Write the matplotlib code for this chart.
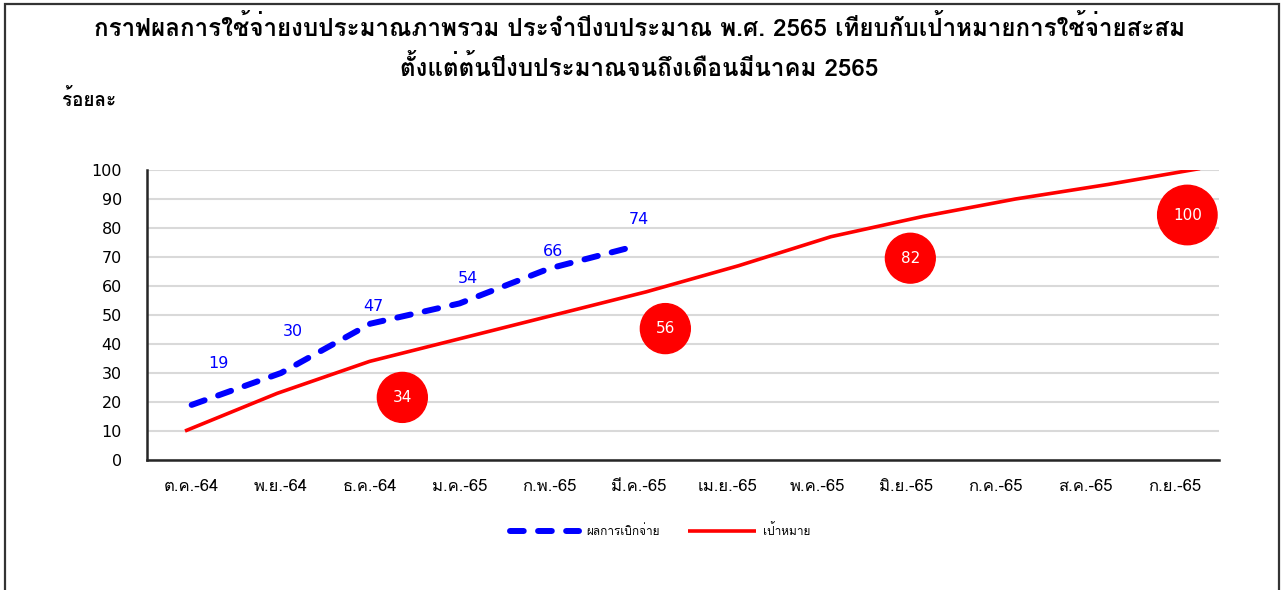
import matplotlib
matplotlib.use("Agg")
import matplotlib.pyplot as plt
from matplotlib.patches import Rectangle

# Loma for the Thai text, DejaVu for the plain numbers
plt.rcParams['font.family'] = ['Loma', 'DejaVu Sans']
NUM_FONT = 'DejaVu Sans'

# data
months = ['ต.ค.-64', 'พ.ย.-64', 'ธ.ค.-64', 'ม.ค.-65', 'ก.พ.-65', 'มี.ค.-65',
          'เม.ย.-65', 'พ.ค.-65', 'มิ.ย.-65', 'ก.ค.-65', 'ส.ค.-65', 'ก.ย.-65']
actual = [19, 30, 47, 54, 66, 74]                 # ผลการเบิกจ่าย (ต.ค.-มี.ค.)
target = [10, 23, 34, 42, 50, 58, 67, 77, 84, 90, 95, 100.5]   # เป้าหมาย
target_label_month = [2, 5, 8, 11]
target_label_value = [34, 56, 82, 100]

title1 = 'กราฟผลการใช้จ่ายงบประมาณภาพรวม ประจำปีงบประมาณ พ.ศ. 2565 เทียบกับเป้าหมายการใช้จ่ายสะสม'
title2 = 'ตั้งแต่ต้นปีงบประมาณจนถึงเดือนมีนาคม 2565'

fig = plt.figure(figsize=(12.86, 5.9), dpi=100)
ax = fig.add_axes([147 / 1286, 1 - 460 / 590, (1219 - 147) / 1286, 290 / 590])

x = list(range(len(months)))

# grid + axes
ax.set_ylim(0, 100)
ax.set_xlim(-0.5, len(months) - 0.5)
ax.set_yticks(range(0, 101, 10))
ax.yaxis.grid(True, color='#d9d9d9', linewidth=1.5)
ax.set_axisbelow(True)
for s in ['top', 'right']:
    ax.spines[s].set_visible(False)
for s in ['left', 'bottom']:
    ax.spines[s].set_color('#262626')
    ax.spines[s].set_linewidth(1.8)
ax.set_xticks(x)
ax.set_xticklabels(months, fontsize=12)
ax.tick_params(axis='both', length=0)
ax.tick_params(axis='y', labelsize=11.5, pad=18)
ax.tick_params(axis='x', pad=14)
for lbl in ax.get_yticklabels():
    lbl.set_family(NUM_FONT)

# target line sits on its own (secondary) x scale, like the source chart
ax2 = ax.twiny()
ax2.set_xticks([])
for s in ax2.spines.values():
    s.set_visible(False)
red_line, = ax2.plot(range(len(target)), target, color='#ff0000', linewidth=2.6,
                     solid_capstyle='butt', label='เป้าหมาย')
ax2.set_xlim(-0.412, 11.206)

blue_line, = ax.plot(x[:len(actual)], actual, color='#0000ff', linewidth=4.3,
                     dash_capstyle='round', label='ผลการเบิกจ่าย')
blue_line.set_dashes((2.3, 2.4))

# data labels (hand-placed offsets, in pixels)
blue_offsets = [(27, 41), (12, 41), (3, 17), (8, 25), (4, 17), (1, 26)]
for i, v in enumerate(actual):
    ax.annotate(str(v), (i, v), xytext=blue_offsets[i], textcoords='offset pixels',
                ha='center', va='center', color='#0000ff', fontsize=11.5,
                family=NUM_FONT)

circle_offsets = [(32, -36), (27, -31), (4, -36), (13, -45)]
for m, v, off in zip(target_label_month, target_label_value, circle_offsets):
    ax.annotate(str(v), (m, v), xytext=off, textcoords='offset pixels',
                ha='center', va='center', color='white', fontsize=11, zorder=5,
                family=NUM_FONT,
                bbox=dict(boxstyle='circle,pad=1.0', fc='#ff0000', ec='#ff0000'))

# titles
fig.text(0.497, 1 - 28 / 590, title1, ha='center', va='center',
         fontsize=17.4, fontweight='bold')
fig.text(0.497, 1 - 68 / 590, title2, ha='center', va='center',
         fontsize=17.4, fontweight='bold')
fig.text(62 / 1286, 1 - 100 / 590, 'ร้อยละ', ha='left', va='center',
         fontsize=13.5, fontweight='bold')

fig.legend([blue_line, red_line], ['ผลการเบิกจ่าย', 'เป้าหมาย'], loc='center',
           bbox_to_anchor=(0.5136, 1 - 530 / 590), ncol=2, frameon=False,
           fontsize=8.5, handlelength=5.8, columnspacing=2.4, handletextpad=0.6)

# outer frame of the chart
fig.patches.append(Rectangle((5 / 1286, -0.1), 1274 / 1286, 1.1 - 4 / 590,
                             transform=fig.transFigure, fill=False,
                             edgecolor='#333333', linewidth=1.6))

fig.savefig('out.png', dpi=100)
